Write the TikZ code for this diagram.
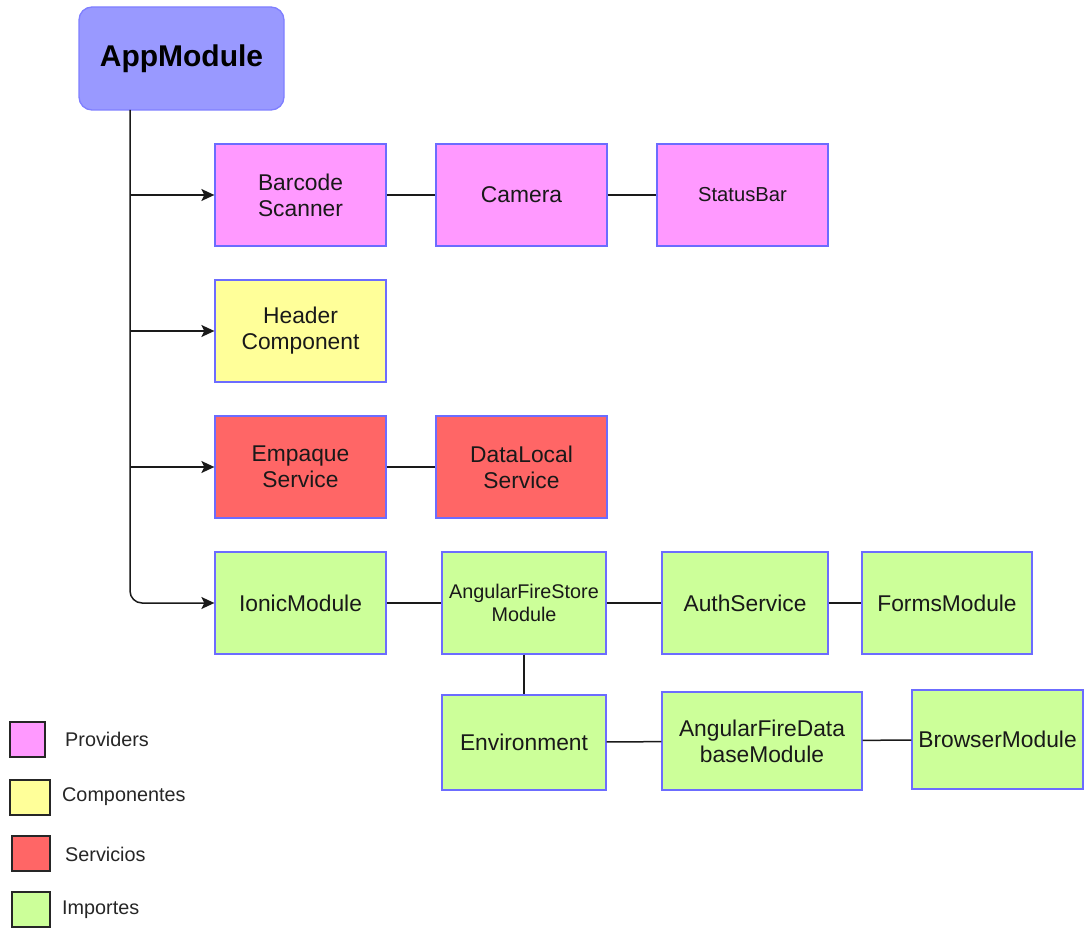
\documentclass[tikz,border=0pt]{standalone}
\usepackage{fontspec}
\setmainfont{Liberation Sans}
\usetikzlibrary{arrows.meta}

\definecolor{appfill}{HTML}{9999FF}
\definecolor{appline}{HTML}{7F7FFF}
\definecolor{boxline}{HTML}{6C6CFF}
\definecolor{provfill}{HTML}{FF99FF}
\definecolor{compfill}{HTML}{FFFF99}
\definecolor{servfill}{HTML}{FF6666}
\definecolor{impfill}{HTML}{CCFF99}
\definecolor{wire}{HTML}{1A1A1A}

\tikzset{
  box/.style={draw=boxline, line width=1.3pt, align=center, inner sep=0pt,
    font=\fontsize{22.8}{26}\selectfont, text=black!90},
  smalltext/.style={font=\fontsize{20.2}{23}\selectfont},
  link/.style={draw=wire, line width=1.5pt},
  tip/.style={-{Stealth[length=13pt,width=12pt,inset=3pt]}},
  feed/.style={link, tip},
  legendsq/.style={draw=black!85, line width=1.4pt, inner sep=0pt},
  legendtext/.style={anchor=west, inner sep=0pt, font=\fontsize{19.8}{22}\selectfont, text=black!85},
}

\begin{document}
\begin{tikzpicture}[x=1pt,y=-1pt]
\useasboundingbox[fill=white] (0,0) rectangle (1085,928);

% root module
\node[draw=appline, fill=appfill, line width=1.3pt, rounded corners=13pt,
      minimum width=205pt, minimum height=103pt,
      font=\fontsize{30}{33}\selectfont\bfseries] (app) at (181.5,58.5) {AppModule};

% providers
\node[box, fill=provfill, minimum width=171pt, minimum height=102pt] (bar) at (300.5,195) {Barcode\\Scanner};
\node[box, fill=provfill, minimum width=171pt, minimum height=102pt] (cam) at (521.5,195) {Camera};
\node[box, smalltext, fill=provfill, minimum width=171pt, minimum height=102pt] (stat) at (742.5,195) {StatusBar};

% components
\node[box, fill=compfill, minimum width=171pt, minimum height=102pt] (head) at (300.5,331) {Header\\Component};

% services
\node[box, fill=servfill, minimum width=171pt, minimum height=102pt] (emp) at (300.5,467) {Empaque\\Service};
\node[box, fill=servfill, minimum width=171pt, minimum height=102pt] (dloc) at (521.5,467) {DataLocal\\Service};

% imports
\node[box, font=\fontsize{19.8}{23}\selectfont, fill=impfill, minimum width=164pt, minimum height=102pt] (afs) at (524,603) {AngularFireStore\\Module};
\node[box, fill=impfill, minimum width=171pt, minimum height=102pt] (ionic) at (300.5,603) {IonicModule};
\node[box, fill=impfill, minimum width=166pt, minimum height=102pt] (auth) at (745,603) {AuthService};
\node[box, fill=impfill, minimum width=170pt, minimum height=102pt] (forms) at (947,603) {FormsModule};
\node[box, fill=impfill, minimum width=164pt, minimum height=95pt] (env) at (524,742.5) {Environment};
\node[box, fill=impfill, minimum width=200pt, minimum height=98pt] (afdb) at (762,741) {AngularFireData\\baseModule};
\node[box, fill=impfill, minimum width=171pt, minimum height=99pt] (brow) at (997.5,739.5) {BrowserModule};

% trunk from the root module with its branches
\coordinate (trunk) at (130,110);
\draw[link, tip, rounded corners=12pt] (trunk) |- (ionic.west);
\draw[feed] (trunk |- bar.west) -- (bar.west);
\draw[feed] (trunk |- head.west) -- (head.west);
\draw[feed] (trunk |- emp.west) -- (emp.west);

% chains
\draw[link] (bar) -- (cam);
\draw[link] (cam) -- (stat);
\draw[link] (emp) -- (dloc);
\draw[link] (ionic) -- (afs);
\draw[link] (afs) -- (auth);
\draw[link] (auth) -- (forms);
\draw[link] (afs) -- (env);
\draw[link] (env) -- (afdb);
\draw[link] (afdb) -- (brow);

% legend
\node[legendsq, fill=provfill, minimum width=35pt, minimum height=35pt] (lp) at (27.5,739.5) {};
\node[legendtext] (lpt) at (65,739) {Providers};
\node[legendsq, fill=compfill, minimum width=40pt, minimum height=35pt] (lc) at (30,797.5) {};
\node[legendtext] (lct) at (62,797) {Componentes};
\node[legendsq, fill=servfill, minimum width=38pt, minimum height=35pt] (ls) at (31,853.5) {};
\node[legendtext] (lst) at (65,854) {Servicios};
\node[legendsq, fill=impfill, minimum width=38pt, minimum height=35pt] (li) at (31,909.5) {};
\node[legendtext] (lit) at (62,910) {Importes};
\end{tikzpicture}
\end{document}
